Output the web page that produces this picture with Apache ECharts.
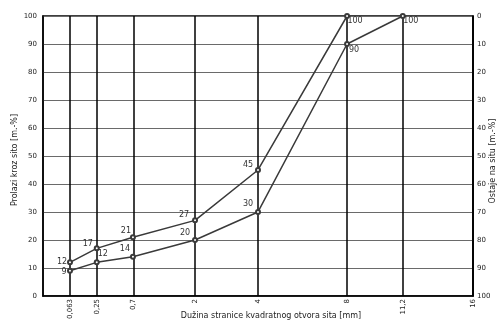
<!DOCTYPE html>
<html><head><meta charset="utf-8">
<script src="https://cdn.jsdelivr.net/npm/echarts@6/dist/echarts.min.js"></script>
<style>html,body{margin:0;padding:0;background:#fff}#c{width:500px;height:322px}</style>
</head><body><div id="c"></div>
<script>
// Sieve sizes [mm] and their tick labels
const sieveSizes = [0.063, 0.25, 0.7, 2, 4, 8, 11.2, 16];
const sieveLabels = ['0,063', '0,25', '0,7', '2', '4', '8', '11,2', '16'];
// Upper grading curve (passing %)
const upperSizes = [0.063, 0.25, 0.7, 2, 4, 8];
const upperValues = [12, 17, 21, 27, 45, 100];
// Lower grading curve (passing %)
const lowerSizes = [0.063, 0.25, 0.7, 2, 4, 8, 11.2];
const lowerValues = [9, 12, 14, 20, 30, 90, 100];

const FONT = 'DejaVu Sans';
const tx = v => Math.sqrt(v);

const upperLabelOffsets = [[-8, 0], [-9, -4], [-7, -6], [-11, -5], [-10, -5], [8, 5]];
const lowerLabelOffsets = [[-6, 1], [6, -8], [-8, -8], [-10, -7], [-10, -8], [7, 6], [8, 5]];

function build(sizes, vals, offs) {
  return sizes.map((s, i) => ({
    value: [tx(s), vals[i]],
    label: { offset: offs[i] }
  }));
}

const chart = echarts.init(document.getElementById('c'), null, { renderer: 'canvas' });
const lineStyle = { color: '#3a3a3a', width: 1.5 };
const labelBase = {
  show: true, position: 'inside', align: 'center', verticalAlign: 'middle',
  fontFamily: FONT, fontSize: 8, color: '#333',
  formatter: p => String(p.value[1])
};
chart.setOption({
  animation: false,
  grid: { left: 43, right: 27, top: 16, bottom: 24, show: true, borderColor: '#000', borderWidth: 1.5, backgroundColor: 'transparent' },
  xAxis: {
    type: 'value', min: 0, max: tx(16),
    axisLine: { show: true, lineStyle: { color: '#000', width: 1.5 } },
    axisTick: { show: false },
    splitLine: { show: false },
    axisLabel: {
      customValues: sieveSizes.map(tx),
      rotate: 90, margin: 3, fontFamily: FONT, fontSize: 7, color: '#222',
      formatter: v => {
        const i = sieveSizes.findIndex(s => Math.abs(tx(s) - v) < 1e-6);
        return i >= 0 ? sieveLabels[i] : '';
      }
    }
  },
  yAxis: [{
    type: 'value', min: 0, max: 100, interval: 10,
    axisLine: { show: true, lineStyle: { color: '#000', width: 1.5 } },
    axisTick: { show: false },
    splitLine: { show: true, lineStyle: { color: '#6a6a6a', width: 1.2 } },
    axisLabel: { margin: 6, fontFamily: FONT, fontSize: 7, color: '#222' }
  }, {
    type: 'value', min: 0, max: 100, interval: 10, inverse: true, position: 'right',
    axisLine: { show: true, lineStyle: { color: '#000', width: 1.5 } },
    axisTick: { show: false },
    splitLine: { show: false },
    axisLabel: { margin: 4, fontFamily: FONT, fontSize: 7, color: '#222' }
  }],
  series: [{
    type: 'line', name: 'upper',
    data: build(upperSizes, upperValues, upperLabelOffsets),
    symbol: 'emptyCircle', symbolSize: 4,
    itemStyle: { color: '#3a3a3a', borderWidth: 1 },
    lineStyle, label: labelBase, z: 5,
    markLine: {
      silent: true, symbol: 'none', animation: false,
      label: { show: false },
      lineStyle: { color: '#000', width: 1.5, type: 'solid' },
      data: sieveSizes.map(s => ({ xAxis: tx(s) }))
    }
  }, {
    type: 'line', name: 'lower',
    data: build(lowerSizes, lowerValues, lowerLabelOffsets),
    symbol: 'emptyCircle', symbolSize: 4,
    itemStyle: { color: '#3a3a3a', borderWidth: 1 },
    lineStyle, label: labelBase, z: 5
  }],
  graphic: [
    { type: 'text', x: 271, y: 312, style: { text: 'Dužina stranice kvadratnog otvora sita [mm]', font: '8px "DejaVu Sans"', fill: '#222', align: 'center' } },
    { type: 'text', x: 15, y: 160, rotation: Math.PI / 2, style: { text: 'Prolazi kroz sito [m.-%]', font: '8px "DejaVu Sans"', fill: '#222', align: 'center', verticalAlign: 'middle' } },
    { type: 'text', x: 493, y: 161, rotation: Math.PI / 2, style: { text: 'Ostaje na situ [m.-%]', font: '8px "DejaVu Sans"', fill: '#222', align: 'center', verticalAlign: 'middle' } }
  ]
});
</script></body></html>
